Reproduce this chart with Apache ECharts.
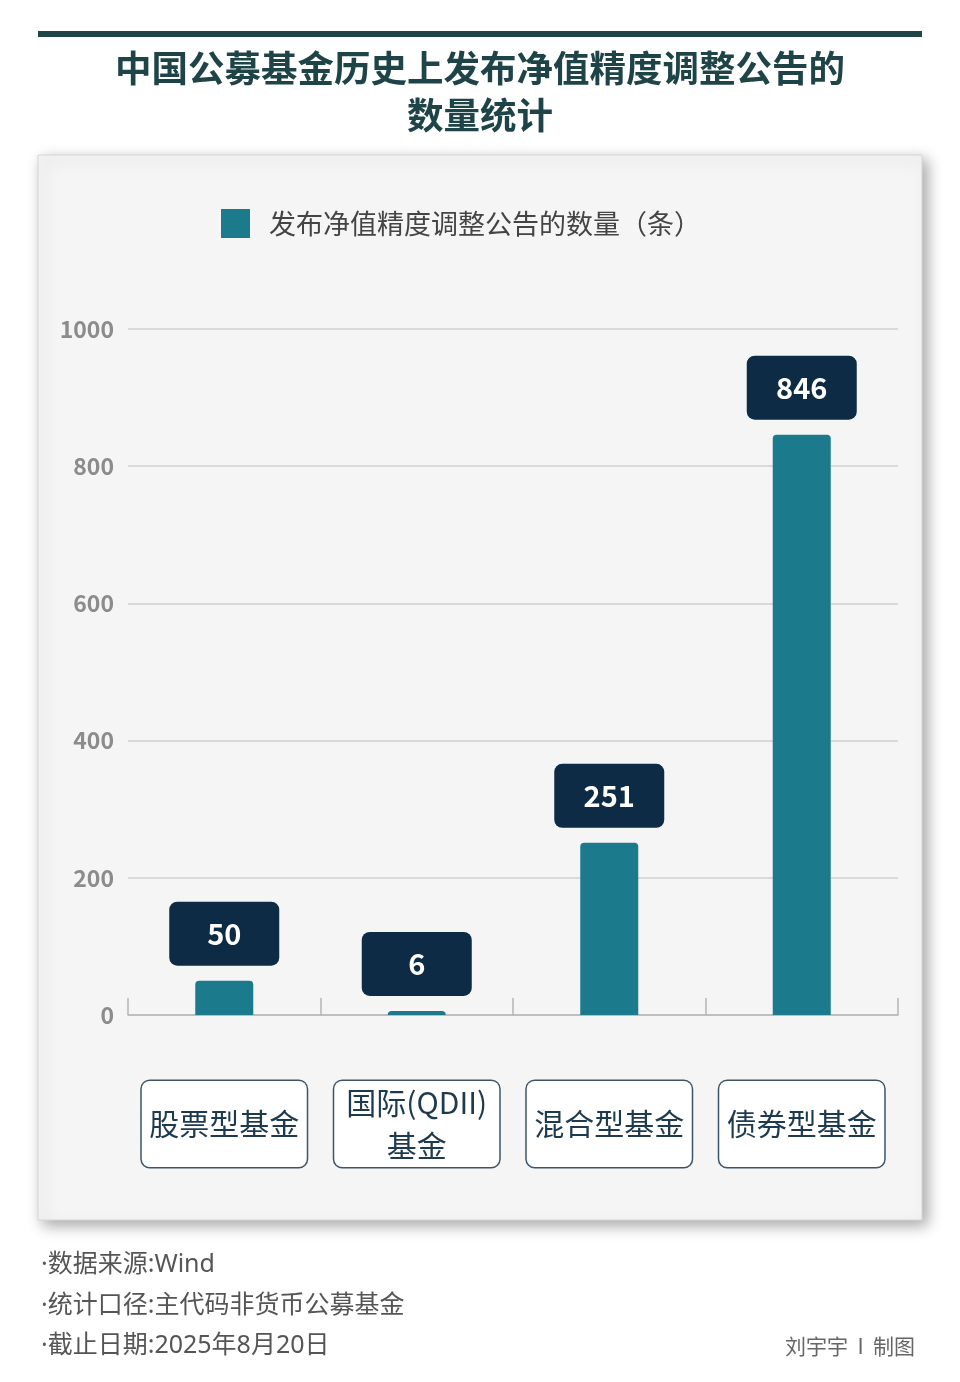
<!DOCTYPE html>
<html><head><meta charset="utf-8">
<script src="https://cdn.jsdelivr.net/npm/echarts@6/dist/echarts.min.js"></script>
<style>html,body{margin:0;padding:0;background:#fff}#c{width:960px;height:1382px}</style>
</head><body><div id="c"></div>
<script>
const titleLines = ['中国公募基金历史上发布净值精度调整公告的', '数量统计'];
const seriesName = '发布净值精度调整公告的数量（条）';
const categories = ['股票型基金', '国际(QDII)\n基金', '混合型基金', '债券型基金'];
const counts = [50, 6, 251, 846];
const yTicks = [0, 200, 400, 600, 800, 1000];
const notes = ['·数据来源:Wind', '·统计口径:主代码非货币公募基金', '·截止日期:2025年8月20日'];
const credit = '刘宇宇  I  制图';

const FONT = '"Noto Sans CJK SC","Noto Sans",sans-serif';
const FONT_LATIN = '"Noto Sans","Noto Sans CJK SC",sans-serif';
const chart = echarts.init(document.getElementById('c'), null, {renderer: 'canvas'});
chart.setOption({
  backgroundColor: '#ffffff',
  textStyle: {fontFamily: FONT},
  graphic: [
    {type: 'rect', z: -10, shape: {x: 38, y: 31, width: 884, height: 6}, style: {fill: '#1f4548'}},
    {type: 'text', z: 10, x: 480, y: 68, style: {text: titleLines[0], fill: '#1e4448', font: 'bold 36.5px ' + FONT, textAlign: 'center', textVerticalAlign: 'middle'}},
    {type: 'text', z: 10, x: 480, y: 115, style: {text: titleLines[1], fill: '#1e4448', font: 'bold 36.5px ' + FONT, textAlign: 'center', textVerticalAlign: 'middle'}},
    {type: 'rect', z: -10, shape: {x: 38, y: 155, width: 884, height: 1065},
      style: {fill: '#f5f5f5', stroke: '#d6d6d6', lineWidth: 1, shadowBlur: 14, shadowOffsetX: 5, shadowOffsetY: 5, shadowColor: 'rgba(0,0,0,0.35)'}},
    {type: 'text', z: 10, x: 41, y: 1265, style: {text: notes[0], fill: '#555', font: '25px ' + FONT_LATIN, textVerticalAlign: 'middle'}},
    {type: 'text', z: 10, x: 41, y: 1306, style: {text: notes[1], fill: '#555', font: '25px ' + FONT_LATIN, textVerticalAlign: 'middle'}},
    {type: 'text', z: 10, x: 41, y: 1346, style: {text: notes[2], fill: '#555', font: '25px ' + FONT_LATIN, textVerticalAlign: 'middle'}},
    {type: 'text', z: 10, x: 915, y: 1346, style: {text: credit, fill: '#666', font: '21px ' + FONT, textAlign: 'right', textVerticalAlign: 'middle'}}
  ],
  legend: {
    top: 209, left: 221, padding: 0, itemWidth: 29, itemHeight: 29, icon: 'rect',
    itemStyle: {borderRadius: 0},
    textStyle: {fontSize: 27, color: '#444', fontFamily: FONT, padding: [0, 0, 0, 14]},
    data: [seriesName]
  },
  grid: {left: 128, right: 62, top: 329, bottom: 367, containLabel: false},
  xAxis: {
    type: 'category', data: categories,
    axisLine: {lineStyle: {color: '#b5b5b5', width: 1.5}},
    axisTick: {show: true, inside: true, length: 17, lineStyle: {color: '#b5b5b5', width: 1.5}},
    axisLabel: {
      margin: 66, interval: 0,
      formatter: function (v) {
        const parts = v.split('\n');
        if (parts.length > 1) return parts.map(p => '{b|' + p + '}').join('\n');
        return '{a|' + v + '}';
      },
      backgroundColor: '#ffffff', borderColor: '#3d5566', borderWidth: 1.5, borderRadius: 8,
      width: 165, align: 'center', padding: 0,
      color: '#1e3a4f', fontSize: 30, fontFamily: FONT,
      rich: {
        a: {fontSize: 30, lineHeight: 86, width: 165, align: 'center', color: '#1e3a4f', fontFamily: FONT},
        b: {fontSize: 30, lineHeight: 43, width: 165, align: 'center', color: '#1e3a4f', fontFamily: FONT}
      }
    }
  },
  yAxis: {
    type: 'value', min: 0, max: 1000, interval: 200,
    axisLine: {show: false}, axisTick: {show: false},
    axisLabel: {margin: 14, fontSize: 23, color: '#8c8c8c', fontWeight: 'bold', fontFamily: FONT,
      formatter: function (v) { return yTicks.indexOf(v) >= 0 ? String(v) : ''; }},
    splitLine: {lineStyle: {color: '#cfcfcf', width: 1.5}}
  },
  series: [{
    name: seriesName, type: 'bar', data: counts, barWidth: 58,
    itemStyle: {color: '#1b7a8b', borderRadius: [4, 4, 0, 0]},
    label: {
      show: true, position: 'top', distance: 15, formatter: '{c}',
      backgroundColor: '#0d2b44', color: '#ffffff', fontSize: 29, fontWeight: 'bold', fontFamily: FONT,
      borderRadius: 8, width: 110, lineHeight: 64, align: 'center', padding: 0
    }
  }]
});
</script></body></html>
